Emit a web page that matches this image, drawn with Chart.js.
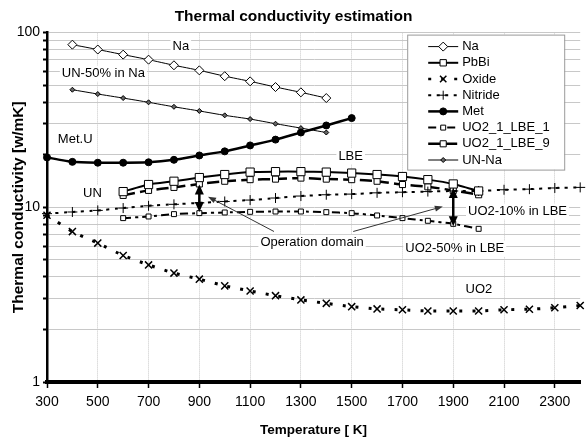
<!DOCTYPE html>
<html>
<head>
<meta charset="utf-8">
<script src="https://cdn.jsdelivr.net/npm/chart.js@4.4.0/dist/chart.umd.min.js"></script>
<style>
  html, body { margin: 0; padding: 0; background: #fff; }
  canvas { display: block; }
</style>
</head>
<body>
<canvas id="chart" width="587" height="445"></canvas>
<script>
const FONT = "'Liberation Sans', Arial, sans-serif";

// axis ticks
const X_TICKS = [300, 500, 700, 900, 1100, 1300, 1500, 1700, 1900, 2100, 2300];
const Y_TICKS = [1, 2, 3, 4, 5, 6, 7, 8, 9, 10, 20, 30, 40, 50, 60, 70, 80, 90, 100];
const Y_LABELS = [1, 10, 100];

// series (temperature in K, conductivity in W/mK)
const SERIES_NAMES = ['Na', 'PbBi', 'Oxide', 'Nitride', 'Met', 'UO2_1_LBE_1', 'UO2_1_LBE_9', 'UN-Na'];

const T_NA = [400, 500, 600, 700, 800, 900, 1000, 1100, 1200, 1300, 1400];
const NA = [85.3, 80.0, 74.8, 70.0, 65.0, 60.8, 56.3, 52.6, 48.8, 45.5, 42.2];
const UN_NA = [47.1, 44.5, 42.2, 39.9, 37.6, 35.6, 33.6, 32.0, 30.1, 28.4, 26.8];

const T_MET = [300, 400, 500, 600, 700, 800, 900, 1000, 1100, 1200, 1300, 1400, 1500];
const MET = [19.3, 18.2, 18.0, 18.0, 18.1, 18.7, 19.8, 20.9, 22.6, 24.4, 26.8, 29.4, 32.4];

const T_LBE = [600, 700, 800, 900, 1000, 1100, 1200, 1300, 1400, 1500, 1600, 1700, 1800, 1900, 2000];
const PBBI = [12.3, 13.5, 14.1, 14.8, 15.4, 15.9, 16.0, 16.0, 15.9, 15.7, 15.4, 15.0, 14.4, 13.6, 12.4];
const UO2_LBE_9 = [11.7, 12.5, 13.0, 13.6, 14.1, 14.4, 14.5, 14.7, 14.5, 14.4, 14.1, 13.5, 13.1, 12.5, 11.8];
const UO2_LBE_1 = [8.67, 8.86, 9.14, 9.26, 9.34, 9.42, 9.46, 9.46, 9.38, 9.26, 8.98, 8.67, 8.37, 8.04, 7.53];

const T_FUEL = [300, 400, 500, 600, 700, 800, 900, 1000, 1100, 1200, 1300, 1400, 1500, 1600, 1700, 1800, 1900, 2000, 2100, 2200, 2300, 2400];
const NITRIDE = [9.2, 9.4, 9.6, 9.9, 10.2, 10.4, 10.6, 10.8, 11.0, 11.3, 11.6, 11.8, 11.9, 12.1, 12.2, 12.3, 12.4, 12.4, 12.6, 12.7, 12.9, 13.0];
const OXIDE = [9.0, 7.26, 6.24, 5.3, 4.68, 4.2, 3.88, 3.55, 3.32, 3.12, 2.95, 2.82, 2.70, 2.62, 2.59, 2.55, 2.55, 2.55, 2.59, 2.61, 2.66, 2.74];

// text notes on the plot, anchored in data units [K, W/mK]
const NOTE_TEXT = ['Na', 'UN-50% in Na', 'Met.U', 'LBE', 'UN', 'Operation domain', 'UO2-10% in LBE', 'UO2-50% in LBE', 'UO2'];
const NOTE_AT = [[827, 83.5], [522, 58.2], [411, 24.6], [1496, 19.6], [479, 12.06], [1344, 6.26], [2153, 9.46], [1906, 5.78], [2001, 3.37]];
// double arrows: [K, upper, lower]
const RANGE_ARROWS = [[900, 13.5, 9.4], [1900, 12.9, 7.8]];
// pointer lines: [K from, value from, K to, value to]
const POINTERS = [[1194, 7.27, 934, 11.5], [1506, 7.27, 1859, 10.1]];

const pts = (ts, vs) => ts.map((t, i) => ({ x: t, y: vs[i] }));

function series(label, data, style) {
    return Object.assign({
        label: label,
        data: data,
        borderColor: '#000',
        pointBorderColor: '#000',
        pointBackgroundColor: '#fff',
        pointBorderWidth: 1,
        borderWidth: 1,
        tension: 0.15,
        clip: 8
    }, style);
}

const datasets = [
    series(SERIES_NAMES[0], pts(T_NA, NA), { pointStyle: 'rectRot', pointRadius: 4.5 }),
    series(SERIES_NAMES[1], pts(T_LBE, PBBI), { pointStyle: 'rect', pointRadius: 5.8, borderWidth: 2 }),
    series(SERIES_NAMES[2], pts(T_FUEL, OXIDE), { pointStyle: 'crossRot', pointRadius: 5, pointBorderWidth: 1.5, borderWidth: 3, borderDash: [3, 10] }),
    series(SERIES_NAMES[3], pts(T_FUEL, NITRIDE), { pointStyle: 'cross', pointRadius: 5, borderWidth: 2, borderDash: [3, 5.5] }),
    series(SERIES_NAMES[4], pts(T_MET, MET), { pointStyle: 'circle', pointRadius: 3.5, pointBackgroundColor: '#000', borderWidth: 2.5 }),
    series(SERIES_NAMES[5], pts(T_LBE, UO2_LBE_1), { pointStyle: 'rect', pointRadius: 3.5, borderWidth: 2, borderDash: [8, 4, 3, 4] }),
    series(SERIES_NAMES[6], pts(T_LBE, UO2_LBE_9), { pointStyle: 'rect', pointRadius: 4.3, borderWidth: 2.5, borderDash: [12, 5] }),
    series(SERIES_NAMES[7], pts(T_NA, UN_NA), { pointStyle: 'rectRot', pointRadius: 2.5, pointBackgroundColor: '#666' })
];

function arrowHead(ctx, tipX, tipY, dx, dy, len, half) {
    const bx = tipX - dx * len, by = tipY - dy * len;
    ctx.beginPath();
    ctx.moveTo(tipX, tipY);
    ctx.lineTo(bx - dy * half, by + dx * half);
    ctx.lineTo(bx + dy * half, by - dx * half);
    ctx.closePath();
    ctx.fill();
}

const whiteBackground = {
    id: 'whiteBackground',
    beforeDraw(chart) {
        const ctx = chart.ctx;
        ctx.save();
        ctx.fillStyle = '#fff';
        ctx.fillRect(0, 0, chart.width, chart.height);
        ctx.restore();
    }
};

const notes = {
    id: 'notes',
    beforeDatasetsDraw(chart) {
        const { ctx, scales: { x, y } } = chart;
        ctx.save();
        ctx.font = '13px ' + FONT;
        ctx.textAlign = 'center';
        ctx.textBaseline = 'middle';
        NOTE_TEXT.forEach((txt, i) => {
            const px = x.getPixelForValue(NOTE_AT[i][0]);
            const py = y.getPixelForValue(NOTE_AT[i][1]);
            const w = ctx.measureText(txt).width;
            ctx.fillStyle = '#fff';
            ctx.fillRect(px - w / 2 - 2, py - 8, w + 4, 16);
            ctx.fillStyle = '#000';
            ctx.fillText(txt, px, py);
        });
        ctx.restore();
    },
    afterDatasetsDraw(chart) {
        const { ctx, scales: { x, y } } = chart;
        ctx.save();
        ctx.fillStyle = '#000';
        ctx.strokeStyle = '#000';
        RANGE_ARROWS.forEach(([t, hi, lo]) => {
            const px = x.getPixelForValue(t);
            const y1 = y.getPixelForValue(hi), y2 = y.getPixelForValue(lo);
            ctx.lineWidth = 2.5;
            ctx.beginPath();
            ctx.moveTo(px, y1 + 6);
            ctx.lineTo(px, y2 - 6);
            ctx.stroke();
            arrowHead(ctx, px, y1, 0, -1, 10, 4.5);
            arrowHead(ctx, px, y2, 0, 1, 10, 4.5);
        });
        ctx.strokeStyle = '#333';
        ctx.fillStyle = '#333';
        POINTERS.forEach(([t0, v0, t1, v1]) => {
            const x0 = x.getPixelForValue(t0), y0 = y.getPixelForValue(v0);
            const x1 = x.getPixelForValue(t1), y1 = y.getPixelForValue(v1);
            const len = Math.hypot(x1 - x0, y1 - y0);
            const dx = (x1 - x0) / len, dy = (y1 - y0) / len;
            ctx.lineWidth = 1;
            ctx.beginPath();
            ctx.moveTo(x0, y0);
            ctx.lineTo(x1 - dx * 5, y1 - dy * 5);
            ctx.stroke();
            arrowHead(ctx, x1, y1, dx, dy, 8, 3);
        });
        ctx.restore();
    }
};

const legendBox = {
    id: 'legendBox',
    afterDraw(chart) {
        const { ctx, chartArea } = chart;
        const w = 157, h = 135, rowH = 16.2;
        const left = chartArea.right - 16 - w, top = chartArea.top + 2;
        ctx.save();
        ctx.fillStyle = '#fff';
        ctx.fillRect(left, top, w, h);
        ctx.strokeStyle = '#9a9a9a';
        ctx.lineWidth = 1;
        ctx.strokeRect(left + 0.5, top + 0.5, w, h);
        chart.data.datasets.forEach((ds, i) => {
            const yy = top + 12 + i * rowH;
            const x0 = left + 21, x1 = left + 51, xm = (x0 + x1) / 2;
            ctx.strokeStyle = ds.borderColor;
            ctx.lineWidth = Math.min(ds.borderWidth, 2.5);
            ctx.setLineDash(ds.borderDash || []);
            ctx.beginPath();
            ctx.moveTo(x0, yy);
            ctx.lineTo(x1, yy);
            ctx.stroke();
            ctx.setLineDash([]);
            ctx.fillStyle = ds.pointBackgroundColor;
            ctx.strokeStyle = ds.pointBorderColor;
            ctx.lineWidth = ds.pointBorderWidth;
            Chart.helpers.drawPoint(ctx, {
                pointStyle: ds.pointStyle,
                radius: Math.min(ds.pointRadius, 4.5),
                rotation: 0,
                borderWidth: ds.pointBorderWidth
            }, xm, yy);
            ctx.fillStyle = '#000';
            ctx.font = '13px ' + FONT;
            ctx.textAlign = 'left';
            ctx.textBaseline = 'middle';
            ctx.fillText(ds.label, x1 + 4, yy);
        });
        ctx.restore();
    }
};

new Chart(document.getElementById('chart'), {
    type: 'line',
    data: { datasets: datasets },
    plugins: [whiteBackground, notes, legendBox],
    options: {
        responsive: false,
        animation: false,
        events: [],
        layout: { padding: 0 },
        plugins: {
            legend: { display: false },
            tooltip: { enabled: false },
            title: {
                display: true,
                text: 'Thermal conductivity estimation',
                color: '#000',
                font: { family: FONT, size: 15.5, weight: 'bold' },
                padding: { top: 7, bottom: 7 }
            }
        },
        scales: {
            x: {
                type: 'linear',
                min: 300,
                max: 2400,
                afterBuildTicks: s => { s.ticks = X_TICKS.map(v => ({ value: v })); },
                afterFit: s => { s.height = 63; },
                ticks: {
                    autoSkip: false,
                    maxRotation: 0,
                    padding: 6,
                    color: '#000',
                    font: { family: FONT, size: 14 },
                    callback: v => String(v)
                },
                grid: { color: '#c8c8c8', lineWidth: 1, tickColor: '#000', tickLength: 6, tickWidth: 1.5 },
                border: { color: '#000', width: 4, dash: [1, 1] },
                title: {
                    display: true,
                    text: 'Temperature [ K]',
                    color: '#000',
                    font: { family: FONT, size: 13.5, weight: 'bold' },
                    padding: { top: 0, bottom: 7 }
                }
            },
            y: {
                type: 'logarithmic',
                min: 1,
                max: 100,
                afterBuildTicks: s => { s.ticks = Y_TICKS.map(v => ({ value: v })); },
                afterFit: s => { s.width = 47; },
                ticks: {
                    autoSkip: false,
                    padding: 3,
                    color: '#000',
                    font: { family: FONT, size: 14 },
                    callback: v => (Y_LABELS.includes(v) ? String(v) : '')
                },
                grid: { color: '#c8c8c8', lineWidth: 1, tickColor: '#000', tickLength: 4, tickWidth: 2 },
                border: { color: '#000', width: 2.5 },
                title: {
                    display: true,
                    text: 'Thermal conductivity [w/mK]',
                    color: '#000',
                    font: { family: FONT, size: 15.5, weight: 'bold' },
                    padding: { top: 9, bottom: 0 }
                }
            }
        }
    }
});
</script>
</body>
</html>
